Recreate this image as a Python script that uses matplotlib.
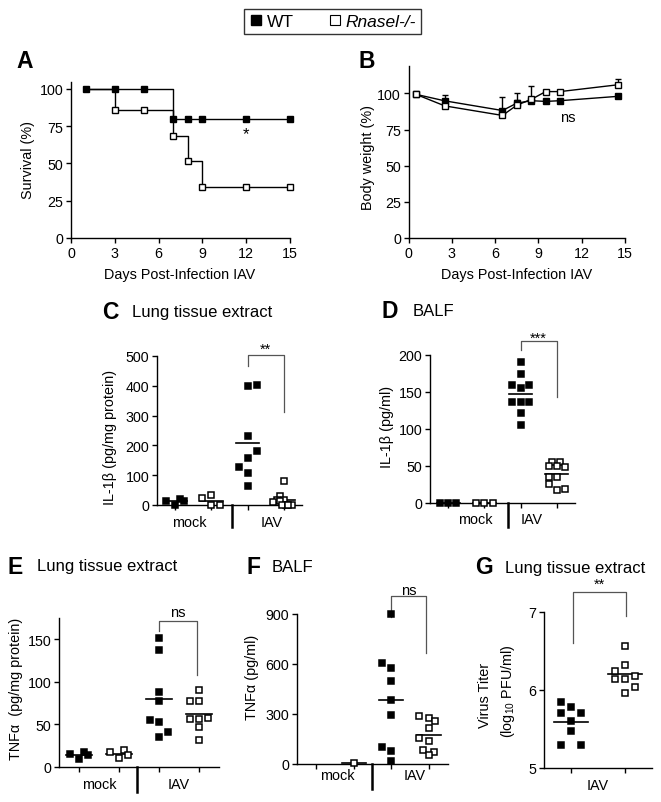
import numpy as np
import matplotlib
matplotlib.use("Agg")
import matplotlib.pyplot as plt
from matplotlib.lines import Line2D
from matplotlib.transforms import blended_transform_factory

plt.rcParams['font.family'] = ['Liberation Sans', 'DejaVu Sans']
plt.rcParams['mathtext.fontset'] = 'custom'
plt.rcParams['mathtext.rm'] = 'Liberation Sans'
plt.rcParams['mathtext.it'] = 'Liberation Sans:italic'

# ---- data ----
# A: survival
wt_surv_days = [1, 3, 5, 7, 8, 9, 12, 15]
wt_surv = [100, 100, 100, 80, 80, 80, 80, 80]
ko_surv_days = [3, 5, 7, 8, 9, 12, 15]
ko_surv = [85.7, 85.7, 68.6, 51.4, 34.3, 34.3, 34.3]

# B: body weight
weight_days = [0.5, 2.5, 6.5, 7.5, 8.5, 9.5, 10.5, 14.5]
wt_weight = [99.4, 94.9, 88.2, 93.3, 95.0, 94.5, 95.0, 98.0]
ko_weight = [99.4, 91.4, 84.8, 91.9, 95.9, 101.3, 101.3, 106.0]
wt_weight_err = [0, 3.9, 0, 2.5, 0, 0, 0, 0]
ko_weight_err = [0, 0, 13.0, 8.7, 9.3, 0, 0, 4.0]

# C: IL-1b lung tissue extract
c_mock_wt = [13, 1, 21, 13]
c_mock_ko = [23, 32, 1, 1]
c_iav_wt = [398, 403, 230, 128, 159, 182, 106, 63]
c_iav_ko = [82, 29, 17, 17, 11, 15, 1, 1, 1, 1]

# D: IL-1b BALF
d_mock_wt = [0, 0, 0]
d_mock_ko = [0, 0, 0]
d_iav_wt = [190, 174, 159, 159, 155, 136, 136, 136, 121, 106]
d_iav_ko = [55, 55, 50, 50, 49, 35, 35, 26, 17, 19]

# E: TNFa lung tissue extract
e_mock_wt = [15, 9, 18, 14]
e_mock_ko = [18, 11, 20, 14]
e_iav_wt = [152, 137, 88, 77, 55, 53, 35, 41]
e_iav_ko = [91, 78, 78, 56, 56, 58, 47, 32]

# F: TNFa BALF
f_mock_wt = []
f_mock_ko = [8]
f_iav_wt = [900, 605, 575, 501, 387, 295, 104, 76, 16]
f_iav_ko = [287, 277, 261, 216, 156, 136, 86, 74, 56]

# G: virus titer
g_iav_wt = [5.85, 5.78, 5.71, 5.70, 5.60, 5.48, 5.29, 5.29]
g_iav_ko = [6.57, 6.32, 6.24, 6.14, 6.14, 6.18, 6.04, 5.96]

# ---- layout: horizontal slots of the dot plots ----
c_slots = [[-1, 0, 0.5, 1], [-1, 0, 0, 1], [0, 1, 0, -1, 0, 1, 0, 0],
           [0, -0.4, -0.8, 0, -1.2, -0.4, 0.2, 0.9, -0.2, 0.5]]
d_slots = [[-1, 0, 1], [-1, 0, 1], [0, 0, -1, 1, 0, -1, 0, 1, 0, 0],
           [-0.6, 0.4, -1, 0, 1, -1, 0, -1, 0, 1]]
e_slots = [[-1, 0, 0.5, 1], [-1, 0, 0.5, 1], [0, 0, 0, 0, -1, 0, 0, 1],
           [0, -1, 0, -1, 0, 1, 0, 0]]
f_slots = [[], [0], [0, -1, 0, 0, 0, 0, -1, 0, 0],
           [-1, 0, 0.6, 0, -1, 0, -0.6, 0.5, 0]]
g_slots = [[-1, 0, -1, 1, 0, 0, -1, 1], [0, 0, -1, -1, 0, 1, 1, 0]]

W, H = 661, 803
fig = plt.figure(figsize=(W / 100, H / 100), dpi=100)

TICK_FS = 10.3
LABEL_FS = 10.4


def add_ax(left, top, right, bottom):
    return fig.add_axes([left / W, 1 - bottom / H, (right - left) / W, (bottom - top) / H])


def style(ax):
    for s in ['top', 'right']:
        ax.spines[s].set_visible(False)
    for s in ['left', 'bottom']:
        ax.spines[s].set_linewidth(1)
    ax.tick_params(direction='out', length=3.5, width=1, labelsize=TICK_FS, pad=2)


def fy(px):
    return 1 - px / H


def letter(x, y, s, title=None, tx=None):
    fig.text(x / W, fy(y), s, fontsize=16.5, fontweight='bold', ha='center', va='center')
    if title:
        fig.text(tx / W, fy(y), title, fontsize=12, ha='left', va='center')


def dot_panel(ax, groups, slots, step, ms=4.3):
    for i, (vals, sl) in enumerate(zip(groups, slots)):
        pos = 0.5 + i
        fill = 'black' if i % 2 == 0 else 'white'
        if len(vals) == 0:
            continue
        x = pos + step * np.asarray(sl, dtype=float)
        ax.plot(x, vals, 's', ms=ms, mfc=fill, mec='black', mew=1.1, ls='none',
                clip_on=False, zorder=3)
        m = np.mean(vals)
        ax.plot([pos - 0.32, pos + 0.32], [m, m], color='black', lw=1.2,
                clip_on=False, zorder=2)
    ax.set_xlim(0, len(groups))
    ax.set_xticks([0.5 + i for i in range(len(groups))])
    ax.set_xticklabels([])


def group_axis(ax, labels, label_x, label_y, div_x=None, axis_y=None, div_y=None):
    tr = blended_transform_factory(ax.transData, fig.transFigure)
    for lab, x in zip(labels, label_x):
        ax.text(x, fy(label_y), lab, transform=tr, ha='center', va='center', fontsize=LABEL_FS)
    if div_x is not None:
        ax.add_line(Line2D([div_x, div_x], [fy(axis_y), fy(div_y)], transform=tr,
                           color='black', lw=1.8, clip_on=False))


def bracket(ax, x1, x2, y_left, y_top, y_right, text, ty):
    ax.plot([x1, x1, x2, x2], [y_left, y_top, y_top, y_right], color='#555555',
            lw=0.9, clip_on=False)
    ax.text((x1 + x2) / 2, ty, text, ha='center', va='center', fontsize=10.5, clip_on=False)


def ylabel(x, y, s):
    fig.text(x / W, fy(y), s, rotation=90, ha='center', va='center', fontsize=LABEL_FS)


# ---- A ----
axA = add_ax(71, 82.5, 290, 239)
style(axA)
axA.step([1] + ko_surv_days, [100] + ko_surv, where='post', color='black', lw=1)
axA.step(wt_surv_days, wt_surv, where='post', color='black', lw=1)
axA.plot(ko_surv_days, ko_surv, 's', ms=4.7, mfc='white', mec='black', mew=1, clip_on=False, zorder=3)
axA.plot(wt_surv_days, wt_surv, 's', ms=4.7, mfc='black', mec='black', mew=1, clip_on=False, zorder=3)
axA.set_xlim(0, 15)
axA.set_ylim(0, 105)
axA.set_xticks(range(0, 16, 3))
axA.set_yticks(range(0, 101, 25))
axA.text(12, 70, '*', ha='center', va='center', fontsize=12)
ylabel(28, 160, 'Survival (%)')
fig.text(180 / W, fy(275), 'Days Post-Infection IAV', ha='center', va='center', fontsize=LABEL_FS)
letter(25, 62, 'A')

# ---- B ----
axB = add_ax(408.7, 67, 625, 239)
style(axB)
wd = np.asarray(weight_days)
for vals, err, fill in [(wt_weight, wt_weight_err, 'black'), (ko_weight, ko_weight_err, 'white')]:
    vals = np.asarray(vals)
    err = np.asarray(err)
    m = err > 0
    axB.errorbar(wd[m], vals[m], yerr=[np.zeros(m.sum()), err[m]], fmt='none',
                 ecolor='black', elinewidth=1, capsize=2, capthick=1, zorder=1)
    axB.plot(wd, vals, '-s', color='black', lw=1, ms=4.7, mfc=fill, mec='black', mew=1, zorder=3)
axB.set_xlim(0, 15)
axB.set_ylim(0, 119)
axB.set_xticks(range(0, 16, 3))
axB.set_yticks(range(0, 101, 25))
axB.text(11, 84, 'ns', ha='center', va='center', fontsize=10.5)
ylabel(368, 158, 'Body weight (%)')
fig.text(517 / W, fy(275), 'Days Post-Infection IAV', ha='center', va='center', fontsize=LABEL_FS)
letter(367, 61, 'B')

# ---- C ----
axC = add_ax(157, 357, 302, 506)
style(axC)
dot_panel(axC, [c_mock_wt, c_mock_ko, c_iav_wt, c_iav_ko], c_slots, 0.245)
axC.set_ylim(0, 500)
axC.set_yticks(range(0, 501, 100))
group_axis(axC, ['mock', 'IAV'], [0.88, 3.17], 523, 2.07, 506, 528)
bracket(axC, 2.5, 3.5, 467, 502, 313, '**', 525)
ylabel(110, 437, 'IL-1β (pg/mg protein)')
letter(110, 313, 'C', 'Lung tissue extract', 132)

# ---- D ----
axD = add_ax(430, 356, 575, 504)
style(axD)
dot_panel(axD, [d_mock_wt, d_mock_ko, d_iav_wt, d_iav_ko], d_slots, 0.23)
axD.set_ylim(0, 200)
axD.set_yticks(range(0, 201, 50))
group_axis(axD, ['mock', 'IAV'], [1.26, 2.81], 520, 2.15, 504, 528)
bracket(axD, 2.5, 3.5, 207, 219, 143, '***', 223)
ylabel(387, 427, 'IL-1β (pg/ml)')
letter(390, 312, 'D', 'BALF', 413)

# ---- E ----
axE = add_ax(59, 619, 219, 768)
style(axE)
dot_panel(axE, [e_mock_wt, e_mock_ko, e_iav_wt, e_iav_ko], e_slots, 0.225)
axE.set_ylim(0, 175)
axE.set_yticks(range(0, 151, 50))
group_axis(axE, ['mock', 'IAV'], [1.0, 3.0], 785, 1.95, 768, 793)
bracket(axE, 2.5, 3.45, 160, 172, 108, 'ns', 182)
ylabel(16, 689, 'TNFα  (pg/mg protein)')
letter(15, 567, 'E', 'Lung tissue extract', 37)

# ---- F ----
axF = add_ax(297, 615, 448, 765)
style(axF)
dot_panel(axF, [f_mock_wt, f_mock_ko, f_iav_wt, f_iav_ko], f_slots, 0.26)
axF.set_ylim(0, 900)
axF.set_yticks(range(0, 901, 300))
group_axis(axF, ['mock', 'IAV'], [1.08, 3.12], 776, 1.98, 765, 790)
bracket(axF, 2.5, 3.43, 882, 1008, 667, 'ns', 1045)
ylabel(252, 677, 'TNFα (pg/ml)')
letter(253, 567, 'F', 'BALF', 272)

# ---- G ----
axG = add_ax(544, 613, 652, 769)
style(axG)
dot_panel(axG, [g_iav_wt, g_iav_ko], g_slots, 0.185)
axG.set_ylim(5, 7)
axG.set_yticks([5, 6, 7])
group_axis(axG, ['IAV'], [1.0], 786)
bracket(axG, 0.54, 1.51, 6.6, 7.26, 6.95, '**', 7.36)
ylabel(485, 695, 'Virus Titer')
ylabel(508, 691, '(log$_{10}$ PFU/ml)')
letter(484, 568, 'G', 'Lung tissue extract', 505)

# ---- legend ----
handles = [Line2D([], [], marker='s', ls='none', ms=7.5, mfc='black', mec='black'),
           Line2D([], [], marker='s', ls='none', ms=6.5, mfc='white', mec='black', mew=0.8)]
leg = fig.legend(handles, ['WT', 'Rnasel-/-'], ncol=2, loc='center',
                 bbox_to_anchor=(332.5 / W, fy(22.5)), frameon=True, fancybox=False,
                 edgecolor='black', fontsize=12.5, handletextpad=0.2, columnspacing=2.0,
                 handlelength=0.8, borderpad=0.3, borderaxespad=0)
leg.get_frame().set_linewidth(1)
leg.get_texts()[1].set_style('italic')

fig.savefig('out.png', dpi=100)
